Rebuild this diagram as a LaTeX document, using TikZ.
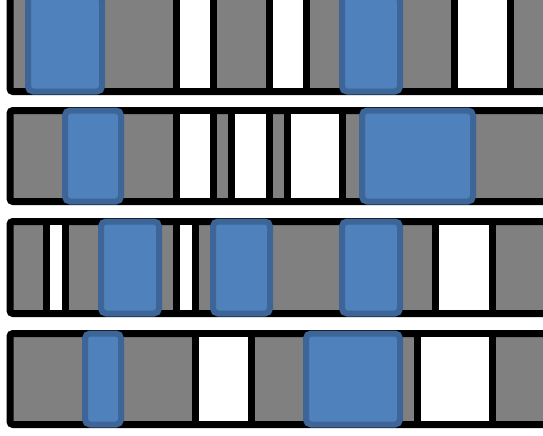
\documentclass[tikz,border=0pt]{standalone}
\definecolor{barGray}{HTML}{808080}
\definecolor{blueFill}{HTML}{4F81BD}
\definecolor{blueEdge}{HTML}{3D6598}
\tikzset{
  barbox/.style={draw=black, line width=7pt, fill=barGray, rounded corners=3pt},
  gapbox/.style={draw=black, line width=7pt, fill=white},
  bluebox/.style={draw=blueEdge, line width=6pt, fill=blueFill, rounded corners=5pt},
}
\begin{document}
\begin{tikzpicture}[x=1pt,y=-1pt]
\useasboundingbox (0,0) rectangle (543,436);
\clip (0,0) rectangle (543,436);
% bar 1
\def\ta{-4}\def\ba{91.5}
\draw[barbox] (10,\ta) rectangle (580,\ba);
\draw[gapbox] (176.5,\ta) rectangle (213.5,\ba);
\draw[gapbox] (269.5,\ta) rectangle (306.5,\ba);
\draw[gapbox] (454,\ta) rectangle (510,\ba);
\draw[bluebox] (28,\ta) rectangle (102,\ba);
\draw[bluebox] (342,\ta) rectangle (400,\ba);
% bar 2
\def\tb{110.5}\def\bb{201.5}
\draw[barbox] (10,\tb) rectangle (580,\bb);
\draw[gapbox] (176.5,\tb) rectangle (213.5,\bb);
\draw[gapbox] (231.5,\tb) rectangle (269.5,\bb);
\draw[gapbox] (287.5,\tb) rectangle (342.5,\bb);
\draw[bluebox] (65,\tb) rectangle (121,\bb);
\draw[bluebox] (362,\tb) rectangle (473,\bb);
% bar 3
\def\tc{221.5}\def\bc{313.5}
\draw[barbox] (10,\tc) rectangle (580,\bc);
\draw[gapbox] (46.5,\tc) rectangle (65,\bc);
\draw[gapbox] (176.5,\tc) rectangle (195,\bc);
\draw[gapbox] (435.5,\tc) rectangle (492,\bc);
\draw[bluebox] (101,\tc) rectangle (159,\bc);
\draw[bluebox] (213,\tc) rectangle (270,\bc);
\draw[bluebox] (342,\tc) rectangle (400,\bc);
% bar 4
\def\td{333.5}\def\bd{424.5}
\draw[barbox] (10,\td) rectangle (580,\bd);
\draw[gapbox] (195.5,\td) rectangle (251,\bd);
\draw[gapbox] (417.5,\td) rectangle (492,\bd);
\draw[bluebox] (85,\td) rectangle (121,\bd);
\draw[bluebox] (306,\td) rectangle (400,\bd);
\end{tikzpicture}
\end{document}
